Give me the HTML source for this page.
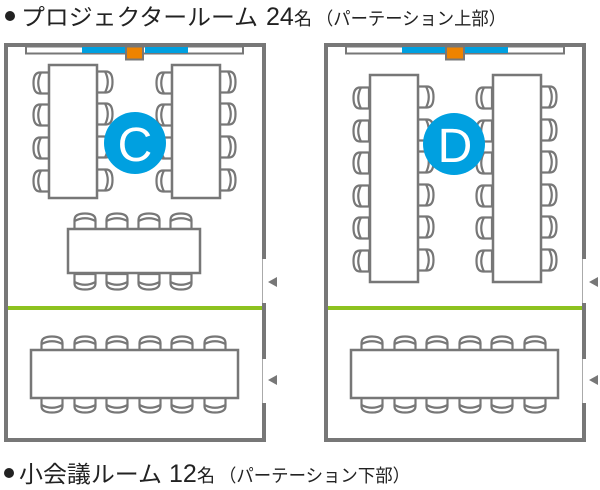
<!DOCTYPE html>
<html><head><meta charset="utf-8"><style>
html,body{margin:0;padding:0;background:#fff;width:600px;height:490px;overflow:hidden}
svg{display:block}
</style></head><body>
<svg width="600" height="490" viewBox="0 0 600 490" xmlns="http://www.w3.org/2000/svg">
<defs>
<g id="ch" fill="#fff" stroke="#777" stroke-width="2.2">
<path d="M1.5,17 V8 Q1.5,1.5 12,1.5 Q22.5,1.5 22.5,8 V17 Z"/>
<path d="M1.5,9 Q12,3.5 22.5,9" fill="none"/>
</g>
</defs>
<g font-family="'Liberation Sans','Noto Sans CJK JP',sans-serif" fill="#222">
<circle cx="10" cy="16" r="5"/>
<text x="21" y="25" font-size="23" textLength="237" lengthAdjust="spacingAndGlyphs">プロジェクタールーム</text>
<text x="266" y="25" font-size="25">24</text>
<text x="294" y="25" font-size="18">名</text>
<text x="316" y="25" font-size="18" textLength="190" lengthAdjust="spacingAndGlyphs">（パーテーション上部）</text>

<circle cx="9" cy="473" r="5"/>
<text x="19" y="482" font-size="23" textLength="143" lengthAdjust="spacingAndGlyphs">小会議ルーム</text>
<text x="169" y="482" font-size="25">12</text>
<text x="197" y="482" font-size="18">名</text>
<text x="219" y="482" font-size="18" textLength="191" lengthAdjust="spacingAndGlyphs">（パーテーション下部）</text>
</g>

<!-- LEFT ROOM -->
<g>
<g fill="#777">
<rect x="4" y="43" width="262" height="4"/>
<rect x="4" y="43" width="4" height="399"/>
<rect x="4" y="438" width="262" height="4"/>
<rect x="262" y="43" width="4" height="216"/>
<rect x="262" y="303" width="4" height="56"/>
<rect x="262" y="403" width="4" height="39"/>
<rect x="262" y="259" width="1" height="44" fill="#aaa"/>
<rect x="262" y="359" width="1" height="44" fill="#aaa"/>
<path d="M268,282 L277,277 L277,287 Z"/>
<path d="M268,380 L277,375 L277,385 Z"/>
</g>
<rect x="26" y="46.5" width="217" height="7" fill="#fff" stroke="#777" stroke-width="2"/>
<rect x="82" y="47" width="43" height="6" fill="#00a0e0"/>
<rect x="145" y="47" width="43" height="6" fill="#00a0e0"/>
<rect x="126" y="46.5" width="17" height="13" fill="#ee8300" stroke="#777" stroke-width="2"/>
<rect x="8" y="306" width="254" height="4" fill="#8dc21f"/>
<g>
<use href="#ch" transform="translate(32,95) rotate(-90)"/>
<use href="#ch" transform="translate(32,127) rotate(-90)"/>
<use href="#ch" transform="translate(32,160) rotate(-90)"/>
<use href="#ch" transform="translate(32,193) rotate(-90)"/>
<use href="#ch" transform="translate(114,70) rotate(90)"/>
<use href="#ch" transform="translate(114,102) rotate(90)"/>
<use href="#ch" transform="translate(114,135) rotate(90)"/>
<use href="#ch" transform="translate(114,168) rotate(90)"/>
<use href="#ch" transform="translate(155,95) rotate(-90)"/>
<use href="#ch" transform="translate(155,127) rotate(-90)"/>
<use href="#ch" transform="translate(155,160) rotate(-90)"/>
<use href="#ch" transform="translate(155,193) rotate(-90)"/>
<use href="#ch" transform="translate(237,70) rotate(90)"/>
<use href="#ch" transform="translate(237,102) rotate(90)"/>
<use href="#ch" transform="translate(237,135) rotate(90)"/>
<use href="#ch" transform="translate(237,168) rotate(90)"/>
<use href="#ch" transform="translate(73,212)"/>
<use href="#ch" transform="translate(105,212)"/>
<use href="#ch" transform="translate(137,212)"/>
<use href="#ch" transform="translate(169,212)"/>
<use href="#ch" transform="translate(97,291) rotate(180)"/>
<use href="#ch" transform="translate(129,291) rotate(180)"/>
<use href="#ch" transform="translate(161,291) rotate(180)"/>
<use href="#ch" transform="translate(193,291) rotate(180)"/>
<use href="#ch" transform="translate(40,335)"/>
<use href="#ch" transform="translate(73,335)"/>
<use href="#ch" transform="translate(105,335)"/>
<use href="#ch" transform="translate(138,335)"/>
<use href="#ch" transform="translate(170,335)"/>
<use href="#ch" transform="translate(203,335)"/>
<use href="#ch" transform="translate(64,414) rotate(180)"/>
<use href="#ch" transform="translate(97,414) rotate(180)"/>
<use href="#ch" transform="translate(129,414) rotate(180)"/>
<use href="#ch" transform="translate(162,414) rotate(180)"/>
<use href="#ch" transform="translate(194,414) rotate(180)"/>
<use href="#ch" transform="translate(227,414) rotate(180)"/>
</g>
<g fill="#fff" stroke="#777" stroke-width="2.5">
<rect x="49" y="65" width="48" height="133"/>
<rect x="172" y="65" width="48" height="133"/>
<rect x="68" y="229" width="132" height="44"/>
<rect x="31" y="350" width="207" height="48"/>
</g>
<circle cx="135" cy="143" r="31" fill="#00a0e0"/>
<text x="135" y="161" text-anchor="middle" font-family="'Liberation Sans',sans-serif" font-size="48" fill="#fff">C</text>
</g>

<!-- RIGHT ROOM -->
<g>
<g fill="#777">
<rect x="324" y="43" width="262" height="4"/>
<rect x="324" y="43" width="4" height="399"/>
<rect x="324" y="438" width="262" height="4"/>
<rect x="582" y="43" width="4" height="216"/>
<rect x="582" y="303" width="4" height="56"/>
<rect x="582" y="403" width="4" height="39"/>
<rect x="582" y="259" width="1" height="44" fill="#aaa"/>
<rect x="582" y="359" width="1" height="44" fill="#aaa"/>
<path d="M589,282 L598,277 L598,287 Z"/>
<path d="M589,380 L598,375 L598,385 Z"/>
</g>
<rect x="346" y="46.5" width="218" height="7" fill="#fff" stroke="#777" stroke-width="2"/>
<rect x="402" y="47" width="43" height="6" fill="#00a0e0"/>
<rect x="465" y="47" width="43" height="6" fill="#00a0e0"/>
<rect x="446" y="46.5" width="18" height="13" fill="#ee8300" stroke="#777" stroke-width="2"/>
<rect x="328" y="306" width="254" height="4" fill="#8dc21f"/>
<g>
<use href="#ch" transform="translate(352,110) rotate(-90)"/>
<use href="#ch" transform="translate(352,143) rotate(-90)"/>
<use href="#ch" transform="translate(352,175) rotate(-90)"/>
<use href="#ch" transform="translate(352,208) rotate(-90)"/>
<use href="#ch" transform="translate(352,240) rotate(-90)"/>
<use href="#ch" transform="translate(352,273) rotate(-90)"/>
<use href="#ch" transform="translate(435,85) rotate(90)"/>
<use href="#ch" transform="translate(435,118) rotate(90)"/>
<use href="#ch" transform="translate(435,150) rotate(90)"/>
<use href="#ch" transform="translate(435,183) rotate(90)"/>
<use href="#ch" transform="translate(435,215) rotate(90)"/>
<use href="#ch" transform="translate(435,248) rotate(90)"/>
<use href="#ch" transform="translate(475,110) rotate(-90)"/>
<use href="#ch" transform="translate(475,143) rotate(-90)"/>
<use href="#ch" transform="translate(475,175) rotate(-90)"/>
<use href="#ch" transform="translate(475,208) rotate(-90)"/>
<use href="#ch" transform="translate(475,240) rotate(-90)"/>
<use href="#ch" transform="translate(475,273) rotate(-90)"/>
<use href="#ch" transform="translate(558,85) rotate(90)"/>
<use href="#ch" transform="translate(558,118) rotate(90)"/>
<use href="#ch" transform="translate(558,150) rotate(90)"/>
<use href="#ch" transform="translate(558,183) rotate(90)"/>
<use href="#ch" transform="translate(558,215) rotate(90)"/>
<use href="#ch" transform="translate(558,248) rotate(90)"/>
<use href="#ch" transform="translate(360,335)"/>
<use href="#ch" transform="translate(393,335)"/>
<use href="#ch" transform="translate(425,335)"/>
<use href="#ch" transform="translate(458,335)"/>
<use href="#ch" transform="translate(490,335)"/>
<use href="#ch" transform="translate(523,335)"/>
<use href="#ch" transform="translate(384,414) rotate(180)"/>
<use href="#ch" transform="translate(417,414) rotate(180)"/>
<use href="#ch" transform="translate(449,414) rotate(180)"/>
<use href="#ch" transform="translate(482,414) rotate(180)"/>
<use href="#ch" transform="translate(514,414) rotate(180)"/>
<use href="#ch" transform="translate(547,414) rotate(180)"/>
</g>
<g fill="#fff" stroke="#777" stroke-width="2.5">
<rect x="370" y="75" width="48" height="207"/>
<rect x="493" y="75" width="48" height="207"/>
<rect x="351" y="350" width="207" height="48"/>
</g>
<circle cx="454" cy="144" r="31" fill="#00a0e0"/>
<text x="455" y="162" text-anchor="middle" font-family="'Liberation Sans',sans-serif" font-size="48" fill="#fff">D</text>
</g>
</svg>
</body></html>
